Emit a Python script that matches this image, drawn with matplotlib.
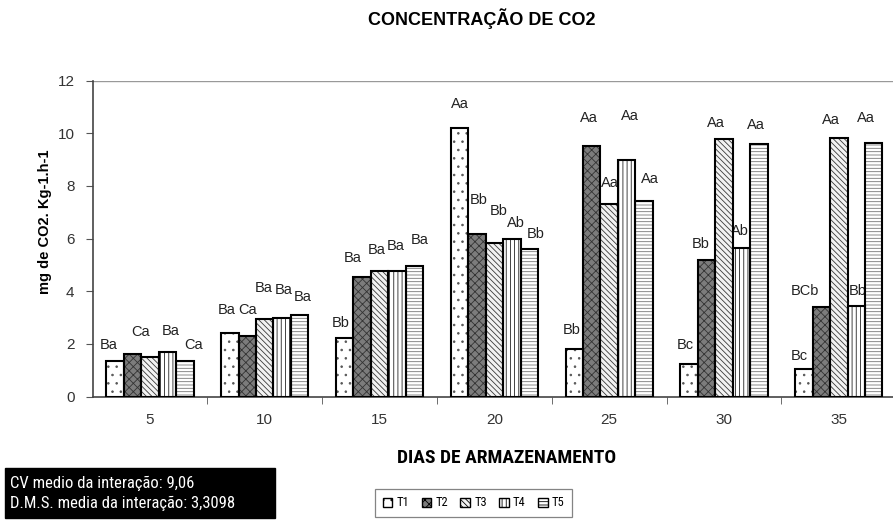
import matplotlib
matplotlib.use("Agg")
import matplotlib.pyplot as plt
import numpy as np
from matplotlib.patches import Rectangle, Patch

plt.rcParams['font.family'] = ['Liberation Sans', 'DejaVu Sans']
plt.rcParams['hatch.linewidth'] = 0.6
NARROW = ['Roboto Condensed', 'Liberation Sans', 'DejaVu Sans']

# Storage days and treatments
days = ["5", "10", "15", "20", "25", "30", "35"]
treatments = ["T1", "T2", "T3", "T4", "T5"]

# CO2 production (mg CO2 kg-1 h-1)
t1 = [1.34, 2.43, 2.21, 10.21, 1.79, 1.22, 1.03]
t2 = [1.60, 2.30, 4.56, 6.17, 9.52, 5.19, 3.40]
t3 = [1.52, 2.93, 4.78, 5.82, 7.31, 9.79, 9.84]
t4 = [1.71, 2.97, 4.76, 5.99, 8.98, 5.66, 3.44]
t5 = [1.34, 3.10, 4.97, 5.61, 7.41, 9.59, 9.63]

# Tukey letters for each bar
lab_t1 = ["Ba", "Ba", "Bb", "Aa", "Bb", "Bc", "Bc"]
lab_t2 = ["Ca", "Ca", "Ba", "Bb", "Aa", "Bb", "BCb"]
lab_t3 = ["", "Ba", "Ba", "Bb", "Aa", "Aa", "Aa"]
lab_t4 = ["Ba", "Ba", "Ba", "Ab", "Aa", "Ab", "Bb"]
lab_t5 = ["Ca", "Ba", "Ba", "Bb", "Aa", "Aa", "Aa"]

series = [t1, t2, t3, t4, t5]
letters = [lab_t1, lab_t2, lab_t3, lab_t4, lab_t5]

# label placement offsets (pixels) relative to the top centre of each bar
label_dx = [
    [-6, -3, -4, 0, -3, -4, -5],
    [8, 0, -9, 2, -3, -6, -16],
    [0, -1, -3, 4, 1, -8, -8],
    [3, 1, -1, 4, 3, -2, 1],
    [9, 3, 5, 6, 6, -3, -8],
]
label_dy = [
    [16, 23, 15, 24, 19, 19, 13],
    [22, 26, 19, 34, 28, 16, 16],
    [0, 31, 21, 32, 21, 16, 18],
    [21, 28, 25, 16, 44, 17, 15],
    [16, 18, 26, 15, 22, 19, 25],
]

# fill colour, hatch pattern and hatch colour per treatment
styles = [
    ("white", "..", "#555555"),
    ("#7c7c7c", "xxxx", "#333333"),
    ("#f2f2f2", "\\\\\\\\\\\\", "#3a3a3a"),
    ("white", "||||", "#222222"),
    ("white", "-----", "#777777"),
]

fig = plt.figure(figsize=(8.93, 5.24), dpi=100)
ax = fig.add_axes([0.1036, 0.2433, 0.900, 0.6027])

n = len(days)
x = np.arange(n)
bw = 0.152
handles = []
for i, (vals, (fc, hatch, hc)) in enumerate(zip(series, styles)):
    pos = x + (i - 2) * bw
    ax.bar(pos, vals, width=bw, facecolor=fc, hatch=hatch, edgecolor=hc,
           linewidth=0, zorder=3)
    bars = ax.bar(pos, vals, width=bw, facecolor="none", edgecolor="black",
                  linewidth=1.5, zorder=4)
    handles.append(Patch(facecolor=fc, hatch=hatch, edgecolor="black",
                         linewidth=1.0, label=treatments[i]))
    for j, b in enumerate(bars):
        txt = letters[i][j]
        if not txt:
            continue
        ax.annotate(txt, (b.get_x() + b.get_width() / 2, b.get_height()),
                    xytext=(label_dx[i][j], label_dy[i][j]),
                    textcoords="offset pixels", ha="center", va="center",
                    fontsize=10.5, color="#222222", zorder=2)

ax.set_xlim(-0.5, n - 0.5)
ax.set_ylim(0, 12)
ax.set_yticks(np.arange(0, 13, 2))
ax.set_xticks(x)
ax.set_xticklabels(days)
ax.set_xticks(np.arange(0.5, n - 0.5, 1), minor=True)
ax.tick_params(axis="x", which="major", length=0, pad=12, labelsize=11,
               labelcolor="#333333")
ax.tick_params(axis="x", which="minor", length=5, direction="out",
               color="#555555")
ax.tick_params(axis="y", length=5, direction="out", labelsize=11,
               labelcolor="#333333", color="#555555", pad=8)
ax.axhline(12, color="#999999", linewidth=1.0, zorder=1)
for s in ["top", "right"]:
    ax.spines[s].set_visible(False)
ax.spines["left"].set_color("#444444")
ax.spines["bottom"].set_color("#444444")
ax.spines["left"].set_linewidth(1.2)
ax.spines["bottom"].set_linewidth(1.2)

fig.text(482 / 893, 1 - 19 / 524, "CONCENTRAÇÃO DE CO2", ha="center",
         va="center", fontsize=13, fontweight="bold")
fig.text(45 / 893, 1 - 222 / 524, "mg de CO2. Kg-1.h-1", rotation=90,
         ha="center", va="center", fontsize=10.5, fontweight="bold")
fig.text(397 / 893, 1 - 458 / 524, "DIAS DE ARMAZENAMENTO", ha="left",
         va="center", fontsize=14, fontweight="bold", family=NARROW)

# black statistics box
fig.patches.append(Rectangle((5 / 893, 1 - 518 / 524), 270 / 893, 50 / 524,
                             transform=fig.transFigure, facecolor="black",
                             edgecolor="black", zorder=0))
fig.text(10 / 893, 1 - 483 / 524, "CV medio da interação: 9,06",
         color="white", fontsize=12, va="center", ha="left", family=NARROW)
fig.text(10 / 893, 1 - 503 / 524, "D.M.S. media da interação: 3,3098",
         color="white", fontsize=12, va="center", ha="left", family=NARROW)

leg = fig.legend(handles=handles, loc="upper left",
                 bbox_to_anchor=(375 / 893, 1 - 489 / 524), ncol=5,
                 prop={"family": NARROW, "size": 9},
                 frameon=True, fancybox=False, edgecolor="#666666",
                 handlelength=0.75, handleheight=0.75, handletextpad=0.35,
                 columnspacing=1.0, borderpad=0.6, borderaxespad=0)
leg.get_frame().set_linewidth(0.9)

fig.savefig("out.png", dpi=100)
